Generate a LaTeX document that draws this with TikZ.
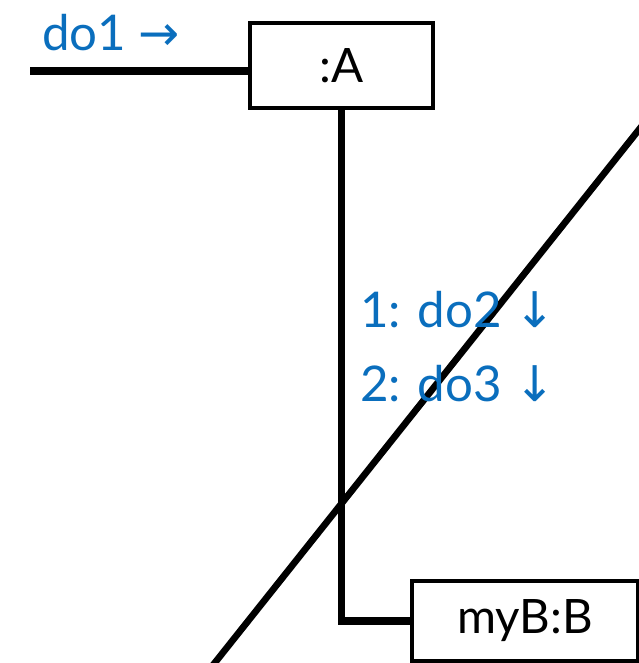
\documentclass[tikz,border=0pt]{standalone}
\usepackage{fontspec}
\setmainfont{Lato}
\newfontfamily\arrowfont{DejaVu Sans}
\usepackage{tikz}
\definecolor{azulMsg}{HTML}{0A6EBD}

\begin{document}
\begin{tikzpicture}[x=0.02cm,y=-0.02cm,
    objeto/.style={draw,line width=2.4pt,fill=white,font=\fontsize{27}{31}\selectfont,inner sep=0pt},
    enlace/.style={line width=4pt},
    mensaje/.style={text=azulMsg,font=\fontsize{28}{32}\selectfont,anchor=base west,inner sep=0pt}]
    \useasboundingbox (0,0) rectangle (639,663);
    \begin{scope}
      \clip (0,0) rectangle (639,663);
      % linea diagonal que cruza todo
      \coordinate (diagIni) at (190,694);
      \coordinate (diagFin) at (680,78);
      \draw[line width=3.8pt] (diagIni) -- (diagFin);
      \node[objeto,minimum width=4.52cm,minimum height=1.6cm] (objB) at (525,621) {myB:B};
    \end{scope}
    \node[objeto,minimum width=3.66cm,minimum height=1.7cm] (objA) at (341.5,65.5) {:A};
    \coordinate (entrada) at (30,71);
    \draw[enlace] (entrada) -- (entrada -| objA.west);
    \draw[enlace] (objA.south) |- (objB.west);
    \node[mensaje] (msg1) at (42,50) {do1 {\arrowfont →}};
    \node[mensaje] (msg2) at (360,327) {1: do2 {\arrowfont ↓}};
    \node[mensaje] (msg3) at (360,401) {2: do3 {\arrowfont ↓}};
  \end{tikzpicture}
\end{document}
